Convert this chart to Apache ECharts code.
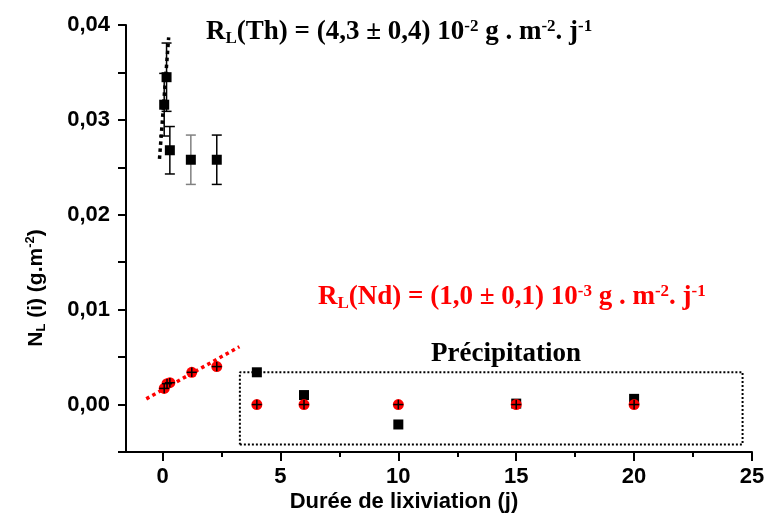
<!DOCTYPE html>
<html>
<head>
<meta charset="utf-8">
<script src="https://cdn.jsdelivr.net/npm/echarts@6/dist/echarts.min.js"></script>
<style>html,body{margin:0;padding:0;background:#fff}#c{width:770px;height:516px}</style>
</head>
<body>
<div id="c"></div>
<script>
// ---- data ----
const thX = [0.07, 0.17, 0.31, 1.2, 2.3, 4, 6, 10, 15, 20];
const thY = [0.0316, 0.0345, 0.0268, 0.0258, 0.0258, 0.0034, 0.0010, -0.0021, 0.0001, 0.0006];
const thErr = [0.0033, 0.0036, 0.0025, 0.0026, 0.0026, 0, 0, 0, 0, 0];
const ndX = [0.07, 0.19, 0.31, 1.24, 2.3, 4, 6, 10, 15, 20];
const ndY = [0.0017, 0.0022, 0.0023, 0.0034, 0.0040, 0, 0, 0, 0, 0];
const ndErr = [0.0005, 0.0005, 0.0005, 0.0005, 0.0005, 0.0005, 0.0005, 0.0005, 0.0005, 0.0005];
const thFitX = [-0.13, 0.26];
const thFitY = [0.0259, 0.0387];
const ndFitX = [-0.69, 3.26];
const ndFitY = [0.0006, 0.0061];
const boxX = [3.28, 24.6];
const boxY = [-0.0042, 0.0034];
const xTicks = [0, 5, 10, 15, 20, 25];
const xMinorTicks = [2.5, 7.5, 12.5, 17.5, 22.5];
const yTicks = [-0.005, 0, 0.005, 0.01, 0.015, 0.02, 0.025, 0.03, 0.035, 0.04];
const yLabels = [0, 0.01, 0.02, 0.03, 0.04];

const zip = (a, b, c) => a.map((v, i) => c ? [v, b[i], c[i]] : [v, b[i]]);

const chart = echarts.init(document.getElementById('c'));
const labelFont = {fontFamily: 'Liberation Sans', fontWeight: 'bold', fontSize: 22, color: '#000'};
const serifB = {fontFamily: 'Liberation Serif', fontWeight: 'bold'};

function errRender(color, caps) {
  return function (params, api) {
    const x = api.value(0), y = api.value(1), e = api.value(2);
    if (!e) return null;
    const c = api.coord([x, y]);
    const t = api.coord([x, y + e]);
    const b = api.coord([x, y - e]);
    const col = (caps && params.dataIndex === 3) ? '#808080' : color;
    const st = {stroke: col, lineWidth: 1.5};
    const hw = 5;
    const ch = [{type: 'line', shape: {x1: t[0], y1: t[1], x2: b[0], y2: b[1]}, style: st}];
    if (caps) {
      ch.push({type: 'line', shape: {x1: t[0] - hw, y1: t[1], x2: t[0] + hw, y2: t[1]}, style: st});
      ch.push({type: 'line', shape: {x1: b[0] - hw, y1: b[1], x2: b[0] + hw, y2: b[1]}, style: st});
    } else {
      ch.push({type: 'line', shape: {x1: c[0] - hw, y1: c[1], x2: c[0] + hw, y2: c[1]}, style: st});
    }
    return {type: 'group', children: ch};
  };
}

const boxData = [[boxX[0], boxY[0]], [boxX[1], boxY[0]], [boxX[1], boxY[1]], [boxX[0], boxY[1]], [boxX[0], boxY[0]]];

function eqRich(col) {
  return {
    b: Object.assign({fontSize: 27, lineHeight: 29, fill: col}, serifB),
    s: Object.assign({fontSize: 17, lineHeight: 14, verticalAlign: 'bottom', fill: col}, serifB),
    p: Object.assign({fontSize: 17, lineHeight: 16, verticalAlign: 'top', fill: col}, serifB)
  };
}

chart.setOption({
  animation: false,
  grid: {left: 126, right: 18, top: 25, bottom: 64},
  xAxis: [{
    type: 'value', min: -1.55, max: 25,
    axisLine: {onZero: false, lineStyle: {color: '#000', width: 2}},
    axisTick: {customValues: xTicks, length: 9, lineStyle: {color: '#000', width: 2}},
    axisLabel: Object.assign({customValues: xTicks, margin: 14}, labelFont),
    splitLine: {show: false}
  }, {
    type: 'value', min: -1.55, max: 25, position: 'bottom',
    axisLine: {show: false, onZero: false},
    axisTick: {customValues: xMinorTicks, length: 5, lineStyle: {color: '#000', width: 2}},
    axisLabel: {show: false},
    splitLine: {show: false}
  }],
  yAxis: {
    type: 'value', min: -0.005, max: 0.04,
    axisLine: {onZero: false, lineStyle: {color: '#000', width: 2}},
    axisTick: {customValues: yTicks, length: 8, lineStyle: {color: '#000', width: 2}},
    axisLabel: Object.assign({customValues: yLabels, margin: 16,
      formatter: v => v.toFixed(2).replace('.', ',')}, labelFont),
    splitLine: {show: false}
  },
  series: [
    {type: 'line', data: boxData, symbol: 'none', silent: true,
      lineStyle: {color: '#000', width: 2, type: 'dotted'}},
    {type: 'line', data: zip(thFitX, thFitY), symbol: 'none',
      lineStyle: {color: '#000', width: 3.5, type: 'dotted'}},
    {type: 'line', data: zip(ndFitX, ndFitY), symbol: 'none',
      lineStyle: {color: '#ff0000', width: 3.5, type: 'dotted'}},
    {type: 'custom', data: zip(thX, thY, thErr), renderItem: errRender('#000', true), z: 3},
    {type: 'scatter', data: zip(thX, thY), symbol: 'rect', symbolSize: 10,
      itemStyle: {color: '#000', opacity: 1}, z: 4},
    {type: 'scatter', data: zip(ndX, ndY), symbol: 'circle', symbolSize: 11,
      itemStyle: {color: '#ff0000', opacity: 1}, z: 5},
    {type: 'custom', data: zip(ndX, ndY, ndErr), renderItem: errRender('#000', false), z: 6}
  ],
  graphic: [
    {type: 'text', left: 206, top: 18, z: 10, style: {
      text: '{b|R}{s|L}{b|(Th) = (4,3 ± 0,4) 10}{p|-2}{b| g . m}{p|-2}{b|. j}{p|-1}',
      fill: '#000', rich: eqRich('#000')}},
    {type: 'text', left: 318, top: 283, z: 10, style: {
      text: '{b|R}{s|L}{b|(Nd) = (1,0 ± 0,1) 10}{p|-3}{b| g . m}{p|-2}{b|. j}{p|-1}',
      fill: '#ff0000', rich: eqRich('#ff0000')}},
    {type: 'text', z: 10, style: Object.assign({
      text: 'Précipitation', x: 506, y: 354, align: 'center', verticalAlign: 'middle',
      fontSize: 27, fill: '#000'}, serifB)},
    {type: 'text', z: 10, style: {
      text: 'Durée de lixiviation (j)', x: 404, y: 502, align: 'center', verticalAlign: 'middle',
      fontFamily: 'Liberation Sans', fontWeight: 'bold', fontSize: 22, fill: '#000'}},
    {type: 'text', z: 10, x: 36, y: 288, rotation: Math.PI / 2, style: {
      text: '{n|N}{s|L}{n| (i) (g.m}{p|-2}{n|)}',
      align: 'center', verticalAlign: 'middle',
      rich: {
        n: {fontFamily: 'Liberation Sans', fontWeight: 'bold', fontSize: 21, lineHeight: 24, fill: '#000'},
        s: {fontFamily: 'Liberation Sans', fontWeight: 'bold', fontSize: 13, lineHeight: 12, verticalAlign: 'bottom', fill: '#000'},
        p: {fontFamily: 'Liberation Sans', fontWeight: 'bold', fontSize: 13, lineHeight: 13, verticalAlign: 'top', fill: '#000'}
      }}}
  ]
});
</script>
</body>
</html>
